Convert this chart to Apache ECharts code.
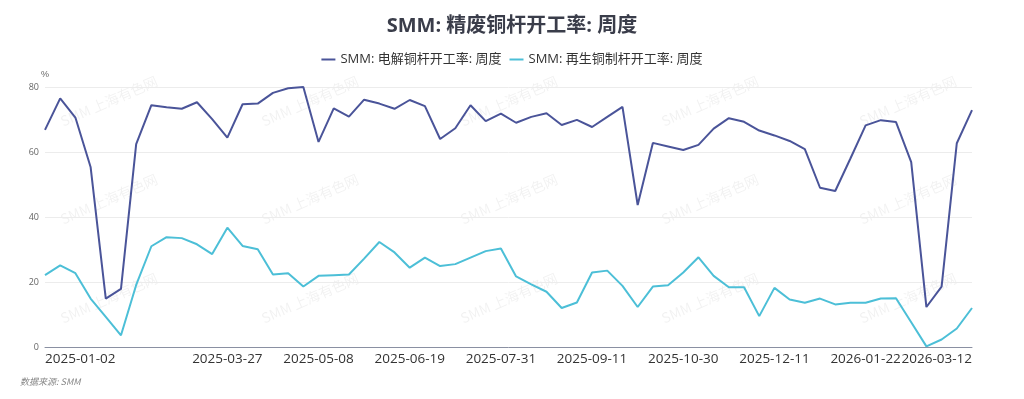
<!DOCTYPE html>
<html>
<head>
<meta charset="utf-8">
<script src="https://cdn.jsdelivr.net/npm/echarts@6/dist/echarts.min.js"></script>
<style>
html,body{margin:0;padding:0;background:#fff;}
#chart{width:1024px;height:399px;}
</style>
</head>
<body>
<div id="chart"></div>
<script>
const dates = [
'2025-01-02','2025-01-09','2025-01-16','2025-01-23','2025-01-30','2025-02-06','2025-02-13','2025-02-20','2025-02-27','2025-03-06',
'2025-03-13','2025-03-20','2025-03-27','2025-04-03','2025-04-10','2025-04-17','2025-04-24','2025-05-01','2025-05-08','2025-05-15',
'2025-05-22','2025-05-29','2025-06-05','2025-06-12','2025-06-19','2025-06-26','2025-07-03','2025-07-10','2025-07-17','2025-07-24',
'2025-07-31','2025-08-07','2025-08-14','2025-08-21','2025-08-28','2025-09-04','2025-09-11','2025-09-18','2025-09-25','2025-10-09',
'2025-10-16','2025-10-23','2025-10-30','2025-11-06','2025-11-13','2025-11-20','2025-11-27','2025-12-04','2025-12-11','2025-12-18',
'2025-12-25','2026-01-01','2026-01-08','2026-01-15','2026-01-22','2026-01-29','2026-02-05','2026-02-12','2026-02-19','2026-02-26',
'2026-03-05','2026-03-12'
];
const electrolytic = [
66.8,76.5,70.6,55.4,14.9,17.9,62.4,74.4,73.8,73.3,
75.3,70.1,64.4,74.7,74.9,78.2,79.6,80.0,63.1,73.4,
70.9,76.1,74.9,73.3,76.0,74.1,64.0,67.3,74.4,69.5,
71.8,69.0,70.8,71.9,68.3,69.9,67.7,70.8,73.9,43.7,
62.8,61.7,60.6,62.2,67.2,70.4,69.3,66.6,65.1,63.4,
60.9,49.0,48.0,58.0,68.2,69.8,69.2,56.9,12.3,18.6,
62.7,72.9
];
const recycled = [
22.1,25.1,22.7,14.9,9.3,3.6,19.1,31.0,33.8,33.5,
31.6,28.6,36.7,31.1,30.1,22.3,22.7,18.6,21.9,22.1,
22.3,27.2,32.3,29.1,24.4,27.5,24.9,25.5,27.5,29.5,
30.3,21.7,19.3,17.0,12.0,13.7,22.9,23.5,18.8,12.3,
18.6,19.0,22.9,27.6,21.9,18.4,18.4,9.5,18.2,14.6,
13.6,14.9,13.1,13.6,13.6,14.9,15.0,7.6,0.2,2.3,
5.7,12.0
];
const xTickLabels = ['2025-01-02','2025-03-27','2025-05-08','2025-06-19','2025-07-31','2025-09-11','2025-10-30','2025-12-11','2026-01-22','2026-03-12'];
const seriesNames = ['SMM: 电解铜杆开工率: 周度','SMM: 再生铜制杆开工率: 周度'];
const titleText = 'SMM: 精废铜杆开工率: 周度';
const watermark = 'SMM 上海有色网';

const FONT = "'Open Sans','Noto Sans CJK SC',sans-serif";
const wmCols = [109, 310, 509, 710, 908];
const wmRows = [101, 199, 298];
const graphics = [];
wmCols.forEach(x => wmRows.forEach(y => {
  graphics.push({
    type: 'text', x: x, y: y, rotation: 0.41, silent: true, z: 0,
    style: { text: watermark, fill: 'rgba(0,0,0,0.055)', font: "14px 'Noto Sans CJK SC', sans-serif", align: 'center', verticalAlign: 'middle' }
  });
}));
graphics.push({
  type: 'text', left: 20, top: 377,
  style: { text: '数据来源: SMM', fill: '#888', font: "italic 9px 'Noto Sans CJK SC', sans-serif" }
});

const chart = echarts.init(document.getElementById('chart'), null, {renderer: 'canvas'});
chart.setOption({
  animation: false,
  backgroundColor: '#fff',
  title: {
    text: titleText, left: 'center', top: 11,
    textStyle: { fontSize: 20, fontWeight: 'bold', color: '#3a3d4a', fontFamily: FONT }
  },
  legend: {
    top: 48, left: 'center', itemWidth: 14, itemHeight: 2, itemGap: 8,
    icon: 'rect',
    textStyle: { fontSize: 13, color: '#333', fontFamily: FONT },
    data: seriesNames
  },
  graphic: graphics,
  grid: { left: 45, right: 52, top: 87, bottom: 52, containLabel: false },
  xAxis: {
    type: 'category', data: dates, boundaryGap: false,
    axisLine: { lineStyle: { color: '#8a90a2' } },
    axisTick: { show: false },
    axisLabel: {
      interval: (i, v) => xTickLabels.includes(v),
      alignMinLabel: 'left', alignMaxLabel: 'right',
      showMinLabel: true, showMaxLabel: true, hideOverlap: false,
      fontSize: 13.5, color: '#333', margin: 5, fontFamily: FONT
    },
    splitLine: { show: false }
  },
  yAxis: {
    type: 'value', min: 0, max: 80, interval: 20,
    name: '%', nameLocation: 'end', nameGap: 8,
    nameTextStyle: { fontSize: 9, color: '#666', align: 'left', padding: [0,0,0,-4] },
    axisLine: { show: false }, axisTick: { show: false },
    axisLabel: { fontSize: 9, color: '#666', margin: 6, fontFamily: FONT },
    splitLine: { lineStyle: { color: '#ececec' } }
  },
  series: [
    { name: seriesNames[0], type: 'line', data: electrolytic, symbol: 'none', z: 3,
      lineStyle: { width: 2, color: '#4a5499' }, itemStyle: { color: '#4a5499' } },
    { name: seriesNames[1], type: 'line', data: recycled, symbol: 'none', z: 3,
      lineStyle: { width: 2, color: '#4cbfd7' }, itemStyle: { color: '#4cbfd7' } }
  ]
});
</script>
</body>
</html>
